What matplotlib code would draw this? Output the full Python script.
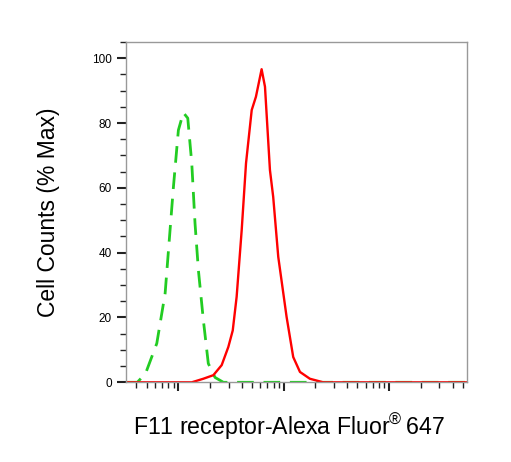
import numpy as np
import matplotlib
matplotlib.use('Agg')
import matplotlib.pyplot as plt
from matplotlib.ticker import LogLocator, MultipleLocator, NullFormatter

plt.rcParams['font.family'] = ['Liberation Sans', 'DejaVu Sans']
plt.rcParams['mathtext.fontset'] = 'custom'
plt.rcParams['mathtext.rm'] = 'Liberation Sans'

# isotype control (green dashed), log10 intensity vs % max
green_logx = [0.50, 0.61, 0.668, 0.694, 0.795, 0.874, 0.921, 0.953, 1.0, 1.047, 1.089,
              1.127, 1.158, 1.190, 1.237, 1.284, 1.348, 1.427, 3.74]
green_y = [0, 0, 2.0, 3.2, 12.0, 27.4, 47.0, 60.3, 77.8, 83.2, 81.5,
           67.6, 49.0, 34.6, 19.2, 5.8, 1.5, 0, 0]

# F11 receptor stained (red solid)
red_logx = [0.50, 1.127, 1.237, 1.332, 1.411, 1.474, 1.516, 1.553, 1.601, 1.642, 1.696,
            1.736, 1.790, 1.822, 1.869, 1.900, 1.948, 2.027, 2.090, 2.154, 2.248, 2.374, 3.74]
red_y = [0, 0, 1.1, 2.2, 5.3, 10.9, 16.0, 26.4, 47.0, 67.6, 84.0,
         88.1, 96.6, 91.2, 65.5, 57.2, 38.7, 20.2, 7.8, 3.2, 1.1, 0, 0]

yticks = [0, 20, 40, 60, 80, 100]

fig = plt.figure(figsize=(5.11, 4.62), dpi=100)
ax = fig.add_axes([0.246, 0.1725, 0.668, 0.7366])

ax.plot(10 ** np.array(green_logx), green_y, color='#22cc22', lw=2, ls=(0, (6, 3.5)))
ax.plot(10 ** np.array(red_logx), red_y, color='#ff0000', lw=1.7)

ax.set_xscale('log')
ax.set_xlim(10 ** 0.5, 10 ** 3.74)
ax.set_ylim(0, 105)
ax.xaxis.set_major_locator(LogLocator(base=10, numticks=10))
ax.xaxis.set_minor_locator(LogLocator(base=10, subs=np.arange(2, 10), numticks=10))
ax.xaxis.set_major_formatter(NullFormatter())
ax.xaxis.set_minor_formatter(NullFormatter())
ax.set_yticks(yticks)
ax.yaxis.set_minor_locator(MultipleLocator(5))

ax.tick_params(axis='both', which='major', length=6.5, width=1.5, color='#222222',
               labelsize=8.5, pad=3.5)
ax.tick_params(axis='both', which='minor', length=4, width=1, color='#222222')

for sp in ax.spines.values():
    sp.set_color('#999999')
    sp.set_linewidth(1)

ax.set_ylabel('Cell Counts (% Max)', fontsize=16.5, labelpad=23)
ax.set_xlabel('F11 receptor-Alexa Fluor$^{\\mathrm{®}}\\,$647', fontsize=16.7, labelpad=11)
ax.xaxis.label.set_x(0.477)

fig.savefig('out.png', dpi=100)
